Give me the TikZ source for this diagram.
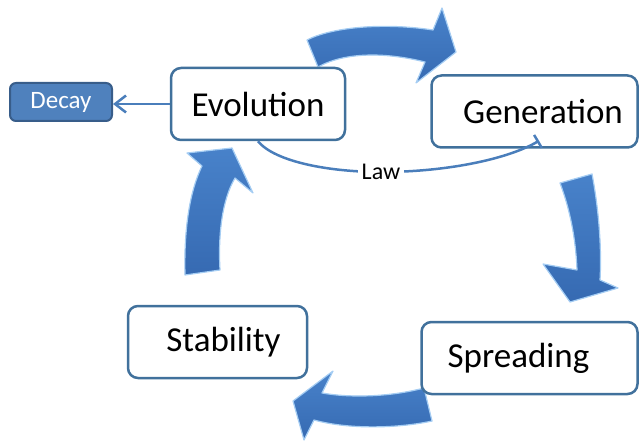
\documentclass[tikz,border=0pt]{standalone}
\usepackage{fontspec}
\setmainfont{Carlito}
\usetikzlibrary{arrows.meta}
\definecolor{boxline}{RGB}{65,113,156}
\definecolor{connblue}{RGB}{74,126,187}
\definecolor{decayfill}{RGB}{79,129,189}
\definecolor{decayline}{RGB}{56,93,138}
\definecolor{arrowlight}{RGB}{72,130,202}
\definecolor{arrowdark}{RGB}{54,106,178}
\definecolor{arrowedge}{RGB}{165,205,243}
\tikzset{
    stagebox/.style={draw=boxline,line width=2.5pt,rounded corners=10pt,fill=white,
        minimum height=72pt,inner sep=0pt,font=\fontsize{35}{40}\selectfont},
    decaybox/.style={draw=decayline,fill=decayfill,line width=2pt,rounded corners=6pt,
        minimum width=102pt,minimum height=38pt,inner sep=0pt,text=white,font=\fontsize{25}{30}\selectfont},
    cyclearrow/.style={top color=arrowlight,bottom color=arrowdark,draw=arrowedge,line width=1.2pt,line join=round},
    conn/.style={draw=connblue,line width=2.5pt}
}
\begin{document}
\begin{tikzpicture}[x=1pt,y=-1pt]
        \useasboundingbox (0,0) rectangle (639,443);
        % Cycle arrows
        \path[cyclearrow] (307,40) .. controls (330,28) and (380,22) .. (433,30) -- (442,8) -- (456,52) -- (416,83)
            -- (425,62) .. controls (385,52) and (345,52) .. (318,67) -- cycle;
        \path[cyclearrow] (560,183) .. controls (572,215) and (576,245) .. (577,270) -- (543,264) -- (570,302) -- (618,288)
            -- (600,280) .. controls (602,245) and (598,205) .. (592,174) -- cycle;
        \path[cyclearrow] (424,388) .. controls (390,397) and (350,398) .. (322,393) -- (333,371) -- (293,401) -- (304,440)
            -- (314,420) .. controls (350,430) and (400,428) .. (432,421) -- cycle;
        \path[cyclearrow] (220,270) .. controls (218,235) and (222,200) .. (235,178) -- (253,193) -- (232,148) -- (187,153)
            -- (202,166) .. controls (188,195) and (184,235) .. (185,275) -- cycle;
        % Stages
        \foreach \name/\x/\y/\w/\label in {evo/258/104/174/Evolution,gen/534.5/111.5/206/{\hspace*{17pt}Generation},
            stab/217.5/342/179/{\hspace*{12pt}Stability},spread/529.5/358/216/{\raisebox{-3pt}{Spreading}\hspace*{22pt}}}
        {
            \node[stagebox,minimum width=\w] (\name) at (\x,\y) {\label};
        }
        \node[decaybox] (decay) at (61,102) {Decay};
        % Links
        \draw[conn,-{Straight Barb[length=11pt,width=17pt,line width=2.5pt]}] (evo.west) -- (evo.west -| decay.east);
        \coordinate (lawend) at ([xshift=4.5pt,yshift=8pt]gen.south);
        \draw[conn,-{Bar[width=15pt]}] (evo.south) .. controls (275,162) and (330,172) .. (381,172)
            node[fill=white,inner sep=4pt,font=\fontsize{24}{28}\selectfont] (law) {Law}
            .. controls (450,172) and (510,158) .. (lawend);
    \end{tikzpicture}
\end{document}
